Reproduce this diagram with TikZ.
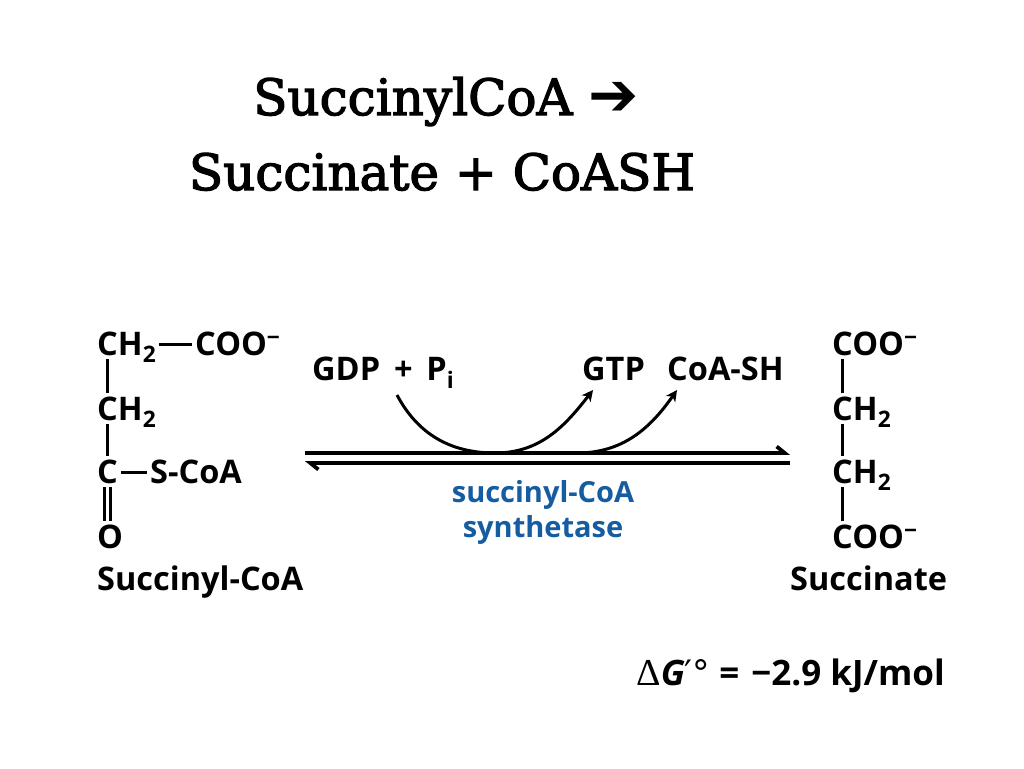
\documentclass[tikz,border=0pt]{standalone}
\usepackage{fontspec}
\setmainfont{DejaVu Serif}
\setsansfont{Open Sans}
\newfontfamily\titlefont{DejaVu Serif}[FakeBold=2.5]
\newfontfamily\symfont{DejaVu Sans}
\newfontfamily\greekfont{Liberation Serif}
\usetikzlibrary{arrows.meta}
\definecolor{enzblue}{RGB}{22,92,160}

\begin{document}
\begin{tikzpicture}[x=1pt,y=-1pt,>={Stealth[length=11pt,width=11pt,inset=3pt]}]
	\useasboundingbox (0,0) rectangle (1024,768);
	\tikzset{every node/.style={inner sep=0pt}}
	\tikzset{chem/.style={anchor=base west,font=\sffamily\bfseries\fontsize{32.5}{38}\selectfont}}
	\tikzset{bond/.style={line width=3pt}}
	\tikzset{eqline/.style={line width=3.8pt}}
	% title
	\node[anchor=base,font=\titlefont\fontsize{50}{60}\selectfont] (t1) at (446,115) {SuccinylCoA {\symfont\bfseries\fontsize{60}{62}\selectfont ➔}};
	\node[anchor=base,font=\titlefont\fontsize{50}{60}\selectfont] (t2) at (442,190) {Succinate + CoASH};
	% succinyl-CoA
	\node[chem] (sa1) at (97,355) {CH\textsubscript{2}};
	\node[chem] (sa2) at (195,355) {COO\textsuperscript{−}};
	\node[chem] (sb)  at (97,420) {CH\textsubscript{2}};
	\node[chem] (sc)  at (97,483) {C};
	\node[chem] (sc2) at (150,483) {S-CoA};
	\node[chem] (so)  at (97,548) {O};
	\node[chem] (sname) at (97,590) {Succinyl-CoA};
	\draw[bond] ([xshift=3pt,yshift=11pt]sa1.base east) -- ([xshift=-3pt,yshift=11pt]sa2.base west);
	\draw[bond] ([xshift=10pt,yshift=-4pt]sa1.base west) -- ([xshift=10pt,yshift=27pt]sb.base west);
	\draw[bond] ([xshift=10pt,yshift=-4pt]sb.base west) -- ([xshift=10pt,yshift=27pt]sc.base west);
	\draw[bond] ([xshift=3pt,yshift=11pt]sc.base east) -- ([xshift=-3pt,yshift=11pt]sc2.base west);
	\draw[bond] ([xshift=7pt,yshift=-4pt]sc.base west) -- ([xshift=7pt,yshift=27pt]so.base west);
	\draw[bond] ([xshift=13pt,yshift=-4pt]sc.base west) -- ([xshift=13pt,yshift=27pt]so.base west);
	% succinate
	\node[chem] (pa) at (832,355) {COO\textsuperscript{−}};
	\node[chem] (pb) at (832,420) {CH\textsubscript{2}};
	\node[chem] (pc) at (832,483) {CH\textsubscript{2}};
	\node[chem] (pd) at (832,548) {COO\textsuperscript{−}};
	\node[chem] (pname) at (790,590) {Succinate};
	\foreach \u/\v in {pa/pb,pb/pc,pc/pd}
		\draw[bond] ([xshift=10pt,yshift=-4pt]\u.base west) -- ([xshift=10pt,yshift=27pt]\v.base west);
	% cofactors
	\node[chem] (gdp) at (312,380) {GDP \,+\, P\textsubscript{i}};
	\node[chem] (gtp) at (582,380) {GTP};
	\node[chem] (coa) at (667,380) {CoA-SH};
	% equilibrium arrows
	\coordinate (eqL) at (305,453);
	\coordinate (eqR) at (790,453);
	\draw[eqline,-{Straight Barb[left,length=8pt,width=13pt]}] (eqL) -- (eqR);
	\draw[eqline,-{Straight Barb[left,length=8pt,width=13pt]}] ([yshift=-10pt]eqR) -- ([yshift=-10pt]eqL);
	\coordinate (low1) at (495,453);
	\coordinate (low2) at (577,453);
	\draw[bond,->] ([xshift=85pt,yshift=-15pt]gdp.base west) to[out=-62,in=180] (low1) to[out=0,in=-128] ([xshift=11pt,yshift=-10pt]gtp.base west);
	\draw[bond,->] (low2) to[out=0,in=-125] ([xshift=10pt,yshift=-10pt]coa.base west);
	% enzyme
	\node[anchor=base,text=enzblue,font=\sffamily\bfseries\fontsize{29}{34}\selectfont] (enz1) at (543,502) {succinyl-CoA};
	\node[anchor=base,text=enzblue,font=\sffamily\bfseries\fontsize{29}{34}\selectfont] (enz2) at (543,537) {synthetase};
	% free energy
	\node[chem,anchor=base east,font=\sffamily\bfseries\fontsize{35}{40}\selectfont] (dg) at (945,685) {{\mdseries\greekfont\fontsize{38}{40}\selectfont Δ}\textit{G}{\mdseries\symfont ′°}\hspace{9pt}=\hspace{12pt}−2.9 kJ/mol};
\end{tikzpicture}
\end{document}
